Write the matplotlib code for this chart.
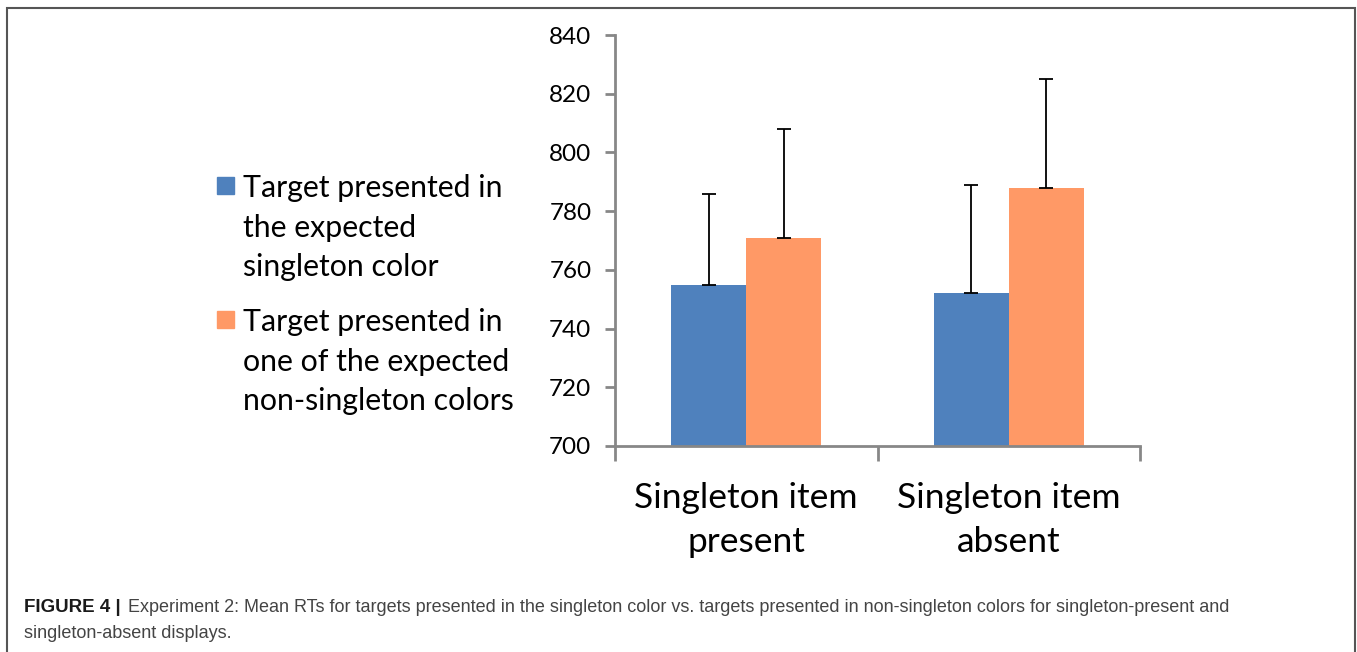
import matplotlib.pyplot as plt
import numpy as np
from matplotlib.patches import Rectangle

# data
categories = ['Singleton item\npresent', 'Singleton item\nabsent']
series_names = ['Target presented in\nthe expected\nsingleton color',
                'Target presented in\none of the expected\nnon-singleton colors']
singleton_color = [755, 752]
non_singleton_color = [771, 788]
err_singleton = [31, 37]
err_non_singleton = [37, 37]
yticks = [700, 720, 740, 760, 780, 800, 820, 840]

colors = ['#4F81BD', '#FF9966']
axis_grey = '#878787'
chart_font = 'Lato'

W, H = 1357, 652
fig = plt.figure(figsize=(W / 100, H / 100), dpi=100)
ax = fig.add_axes([615 / W, 1 - 446 / H, (1140 - 615) / W, (446 - 35) / H])

x = np.arange(len(categories))
bw = 0.286
ax.bar(x - bw / 2, singleton_color, bw, color=colors[0], zorder=2)
ax.bar(x + bw / 2, non_singleton_color, bw, color=colors[1], zorder=2)
ax.errorbar(x - bw / 2, singleton_color, yerr=[[0, 0], err_singleton], fmt='none',
            ecolor='black', elinewidth=1.3, capsize=5, capthick=1.3, zorder=3)
ax.errorbar(x + bw / 2, non_singleton_color, yerr=[[0, 0], err_non_singleton], fmt='none',
            ecolor='black', elinewidth=1.3, capsize=5, capthick=1.3, zorder=3)

ax.set_xlim(-0.5, 1.5)
ax.set_ylim(700, 840)
ax.set_yticks(yticks)
ax.set_yticklabels([str(v) for v in yticks], fontsize=17.5, family=chart_font)
ax.set_xticks(x)
ax.set_xticklabels(categories, fontsize=25.5, family=chart_font, linespacing=1.46)
ax.set_xticks([-0.5, 0.5, 1.5], minor=True)
ax.tick_params(axis='x', which='major', length=0, pad=26)
ax.tick_params(axis='x', which='minor', length=11, width=2, color=axis_grey)
ax.tick_params(axis='y', length=7, width=2, color=axis_grey, pad=10)

for side in ['top', 'right']:
    ax.spines[side].set_visible(False)
for side in ['left', 'bottom']:
    ax.spines[side].set_color(axis_grey)
    ax.spines[side].set_linewidth(2)

# legend drawn by hand so the swatch sits on the first line
legend_tops = [177, 311]
for name, col, top in zip(series_names, colors, legend_tops):
    fig.add_artist(Rectangle((217 / W, 1 - (top + 17) / H), 17 / W, 17 / H,
                             transform=fig.transFigure, color=col))
    fig.text(243 / W, 1 - (top - 3) / H, name, fontsize=21.8, family=chart_font,
             va='top', ha='left', linespacing=1.51)

# caption
fig.text(24 / W, 1 - 607 / H, 'FIGURE 4 |', fontsize=13.5, family='Liberation Sans',
         weight='bold', color='#1a1a1a', va='center')
fig.text(128 / W, 1 - 607 / H,
         'Experiment 2: Mean RTs for targets presented in the singleton color vs. targets '
         'presented in non-singleton colors for singleton-present and',
         fontsize=13, family='Liberation Sans', color='#444444', va='center')
fig.text(24 / W, 1 - 634 / H, 'singleton-absent displays.', fontsize=13,
         family='Liberation Sans', color='#444444', va='center')

# frame around the figure
fig.add_artist(Rectangle((7 / W, -0.05), (1355 - 7) / W, 1.05 - 8 / H,
                         transform=fig.transFigure, fill=False,
                         edgecolor='#555555', linewidth=1.5))

fig.savefig('out.png', dpi=100)
